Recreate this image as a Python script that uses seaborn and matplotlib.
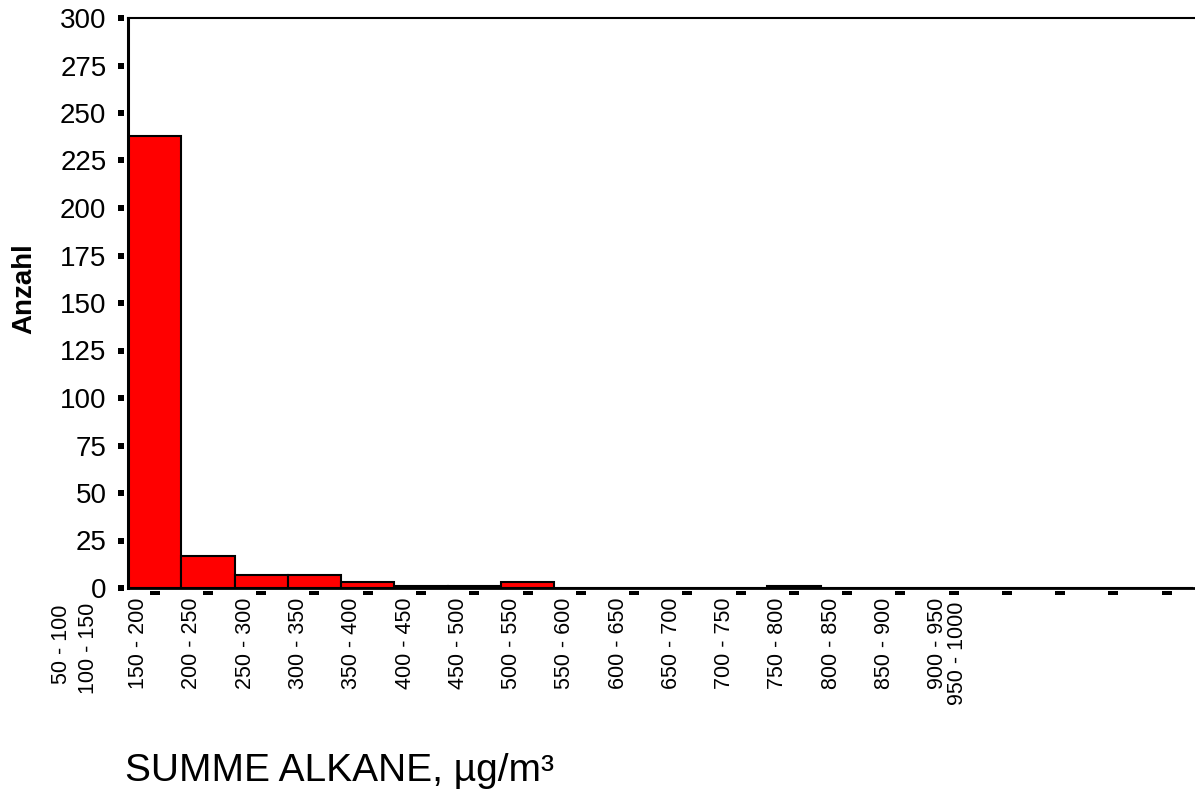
import numpy as np
import pandas as pd
import matplotlib
matplotlib.use("Agg")
import matplotlib.pyplot as plt
import seaborn as sns

# Frequency of total alkane concentrations in 50 µg/m³ classes
bin_index = list(range(20))
counts = [238, 17, 7, 7, 3, 1, 1, 3, 0, 0, 0, 0, 1, 0, 0, 0, 0, 0, 0, 0]
class_labels = [
    "50 - 100", "100 - 150", "150 - 200", "200 - 250", "250 - 300",
    "300 - 350", "350 - 400", "400 - 450", "450 - 500", "500 - 550",
    "550 - 600", "600 - 650", "650 - 700", "700 - 750", "750 - 800",
    "800 - 850", "850 - 900", "900 - 950", "950 - 1000",
]
y_ticks = [0, 25, 50, 75, 100, 125, 150, 175, 200, 225, 250, 275, 300]

sns.set_style("white")
plt.rcParams["font.family"] = ["Liberation Sans", "DejaVu Sans"]

W, H = 1195, 792
fig = plt.figure(figsize=(W / 100, H / 100), dpi=100)
ax = fig.add_axes([128 / W, 1 - 588 / H, 1 - 128 / W, 570 / H])

df = pd.DataFrame({"bin": bin_index, "count": counts})
sns.barplot(data=df, x="bin", y="count", color="#ff0000", saturation=1,
            edgecolor="black", linewidth=1.5, width=1.0, ax=ax)

ax.set_xlim(-0.5, 19.53)
ax.set_ylim(0, 300)
ax.set_xlabel("")
ax.set_ylabel("")

# frame: left, top and bottom lines only
ax.spines["right"].set_visible(False)
ax.spines["left"].set_linewidth(2.2)
ax.spines["top"].set_linewidth(1.5)
ax.spines["bottom"].set_linewidth(2.0)
for s in ax.spines.values():
    s.set_color("black")

# y tick labels, tick marks drawn separately as detached blocks
ax.set_xticks([])
ax.set_yticks(y_ticks)
ax.set_yticklabels([str(v) for v in y_ticks])
ax.tick_params(axis="y", length=0, pad=15.5, labelsize=20, labelcolor="black")

xdash = [(-1, -0.34), (1, -0.34), (1, 0.34), (-1, 0.34)]
yblock = [(-1, -0.85), (1, -0.85), (1, 0.85), (-1, 0.85)]
ax.plot(bin_index, np.full(len(bin_index), -0.0079),
        transform=ax.get_xaxis_transform(), ls="none", marker=xdash,
        ms=6.5, mfc="black", mew=0, clip_on=False)
ax.plot(np.full(len(y_ticks), -0.0066), y_ticks,
        transform=ax.get_yaxis_transform(), ls="none", marker=yblock,
        ms=4.3, mfc="black", mew=0, clip_on=False)

# class labels under the axis
label_x = np.arange(len(class_labels)) - 2.3
label_x[0] = -1.74
label_x[1] = -1.25
label_x[-1] = 15.08
label_top = np.full(len(class_labels), -0.0175)
label_top[0] = -0.03
label_top[1] = -0.026
label_top[-1] = -0.024
for x, top, lab in zip(label_x, label_top, class_labels):
    ax.text(x, top, lab, rotation=90, ha="center", va="top",
            transform=ax.get_xaxis_transform(), fontsize=15.5, color="black")

fig.text(24 / W, 1 - 289 / H, "Anzahl", rotation=90, ha="center",
         va="center", fontsize=20, fontweight="bold", color="black")
fig.text(125 / W, 1 - 771 / H, "SUMME ALKANE, µg/m³", ha="left",
         va="center", fontsize=28, color="black")

fig.savefig("out.png", dpi=100, facecolor="white")
